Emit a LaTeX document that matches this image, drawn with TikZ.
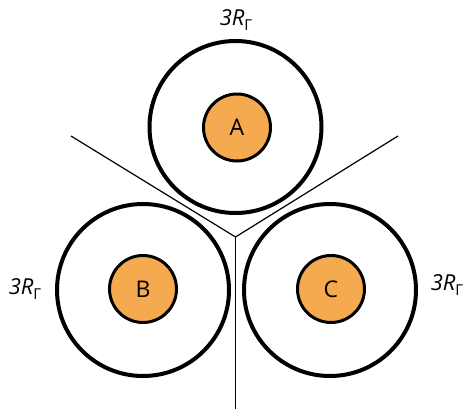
\documentclass[tikz,border=0pt]{standalone}
\usepackage{fontspec}
\setmainfont{Open Sans}
\definecolor{coreorange}{RGB}{245,170,80}
\tikzset{
  outerring/.style={circle, draw=black, line width=4pt, minimum size=172pt, inner sep=0pt},
  innercore/.style={circle, draw=black, fill=coreorange, line width=3pt, minimum size=67pt, inner sep=0pt, font=\fontsize{23}{27}\selectfont},
  divider/.style={draw=black, line width=1.2pt},
  radlabel/.style={font=\fontsize{22}{26}\selectfont, inner sep=0pt}
}
\newcommand{\rlab}{\textit{3R}\raisebox{-5pt}{\fontsize{15}{17}\selectfont Γ}}
\begin{document}
\begin{tikzpicture}[x=1pt,y=-1pt]
\useasboundingbox (0,0) rectangle (464,408);
\coordinate (J) at (235.5,237);
\coordinate (L) at (71,136);
\coordinate (R) at (398,136);
\coordinate (D) at (235.5,410);
\draw[divider] (L) -- (J) -- (R);
\draw[divider] (J) -- (D);
\node[outerring] (oA) at (235.5,127) {};
\node[outerring] (oB) at (143,290) {};
\node[outerring] (oC) at (330,290) {};
\node[innercore] (A) at (237,127.5) {A};
\node[innercore] (B) at (143,289) {B};
\node[innercore] (C) at (331,289) {C};
\node[radlabel] (lA) at (236,20) {\rlab};
\node[radlabel] (lB) at (25,289) {\rlab};
\node[radlabel] (lC) at (447,285) {\rlab};
\end{tikzpicture}
\end{document}
